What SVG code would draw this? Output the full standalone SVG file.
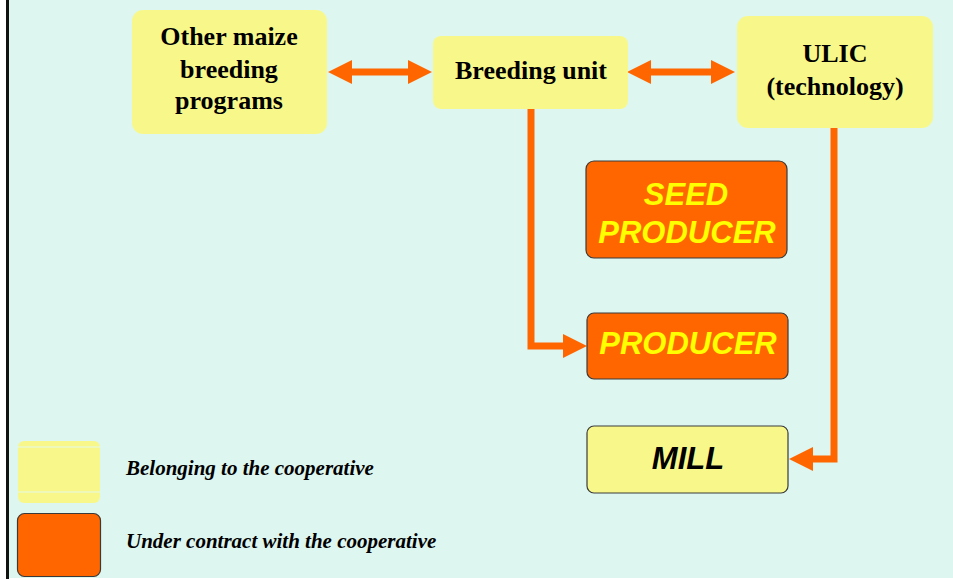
<svg xmlns="http://www.w3.org/2000/svg" width="953" height="579" viewBox="0 0 953 579">
  <style>
    .own { fill: #F8F88A; }
    .contract { fill: #FF6600; stroke: #3A3A3A; stroke-width: 1.2; }
    .outlined { stroke: #3A3A3A; stroke-width: 1.2; }
    .label { font-family: "Liberation Serif", "Times New Roman", serif; font-weight: bold; font-size: 26px; fill: #000; text-anchor: middle; }
    .actor { font-family: "Liberation Sans", Arial, sans-serif; font-weight: bold; font-style: italic; font-size: 31px; text-anchor: middle; }
    .legend { font-family: "Liberation Serif", "Times New Roman", serif; font-weight: bold; font-style: italic; font-size: 21px; fill: #000; }
    .link { fill: none; stroke: #FF6600; stroke-width: 7; stroke-linejoin: miter; }
  </style>
  <defs>
    <marker id="head" viewBox="0 0 24 24" markerWidth="24" markerHeight="24" refX="4" refY="12" markerUnits="userSpaceOnUse" orient="auto-start-reverse">
      <path d="M0,0 L24,12 L0,24 z" fill="#FF6600"/>
    </marker>
  </defs>

  <!-- page and frame -->
  <rect x="0" y="0" width="953" height="579" fill="#FFFFFF"/>
  <rect x="8" y="0" width="945" height="578" fill="#DDF6F0"/>
  <rect x="6" y="0" width="3" height="579" fill="#111111"/>

  <!-- connectors -->
  <g id="connectors">
    <line class="link" x1="348" y1="72" x2="412" y2="72" marker-start="url(#head)" marker-end="url(#head)"/>
    <line class="link" x1="647" y1="72" x2="715" y2="72" marker-start="url(#head)" marker-end="url(#head)"/>
    <path class="link" d="M531,109 V346 H567" marker-end="url(#head)"/>
    <path class="link" d="M834,128 V459 H809" marker-end="url(#head)"/>
  </g>

  <g id="other-programs">
    <rect class="own" x="132" y="10" width="195" height="124" rx="11"/>
    <text class="label" x="229" y="45">Other maize</text>
    <text class="label" x="229" y="78">breeding</text>
    <text class="label" x="229" y="109">programs</text>
  </g>

  <g id="breeding-unit">
    <rect class="own" x="433" y="36" width="195" height="73" rx="8"/>
    <text class="label" x="531" y="79">Breeding unit</text>
  </g>

  <g id="ulic">
    <rect class="own" x="737" y="16" width="196" height="112" rx="11"/>
    <text class="label" x="835" y="62">ULIC</text>
    <text class="label" x="835" y="95">(technology)</text>
  </g>

  <g id="seed-producer">
    <rect class="contract" x="586" y="161" width="201" height="97" rx="8"/>
    <text class="actor" x="686" y="205" fill="#FFFF00">SEED</text>
    <text class="actor" x="687" y="243" fill="#FFFF00">PRODUCER</text>
  </g>

  <g id="producer">
    <rect class="contract" x="587" y="313" width="201" height="66" rx="7"/>
    <text class="actor" x="688" y="354" fill="#FFFF00">PRODUCER</text>
  </g>

  <g id="mill">
    <rect class="own outlined" x="587" y="426" width="201" height="67" rx="7"/>
    <text class="actor" x="688" y="469" fill="#000000">MILL</text>
  </g>

  <!-- key -->
  <g id="legend-own">
    <rect class="own" x="18" y="441" width="82" height="62" rx="6"/>
    <line x1="18" y1="447" x2="100" y2="447" stroke="#E4F8E8" stroke-width="1"/>
    <line x1="18" y1="492" x2="100" y2="492" stroke="#E4F8E8" stroke-width="1"/>
    <text class="legend" x="126" y="475">Belonging to the cooperative</text>
  </g>
  <g id="legend-contract">
    <rect class="contract" x="17.5" y="513.5" width="83" height="63" rx="7"/>
    <text class="legend" x="126" y="548">Under contract with the cooperative</text>
  </g>
</svg>
